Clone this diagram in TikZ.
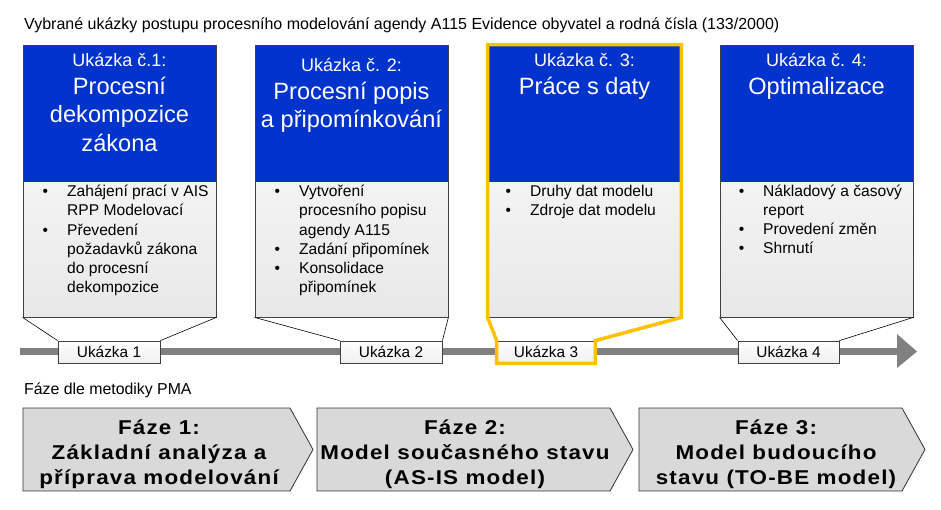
\documentclass[tikz,border=0pt]{standalone}
\usepackage{fontspec}
\setmainfont{Liberation Sans}
\newfontfamily\phasefont[FakeStretch=1.12,LetterSpace=6]{Liberation Sans}
\usetikzlibrary{calc}
\definecolor{ublue}{HTML}{0033CC}
\definecolor{boxborder}{HTML}{404040}
\definecolor{grayend}{HTML}{E8E8E8}
\definecolor{barcol}{HTML}{808080}
\definecolor{hilite}{HTML}{FFC000}
\definecolor{phasefill}{HTML}{D9D9D9}
\newcommand\bul{\llap{\textbullet\hspace{19pt}}}
\tikzset{
  samplebox/.style={draw=boxborder, line width=0.8pt, minimum width=193pt, minimum height=272pt, inner sep=0pt,
    path picture={
      \shade[top color=white, bottom color=grayend] ([yshift=-137pt]path picture bounding box.north west) rectangle (path picture bounding box.south east);
      \fill[ublue] (path picture bounding box.north west) rectangle ([yshift=-137pt]path picture bounding box.north east);
    }},
  labelbox/.style={draw=boxborder, line width=0.8pt, top color=white, bottom color=grayend!70, minimum height=22pt, inner sep=0pt, font=\fontsize{15.4}{18}\selectfont},
  subtitle/.style={anchor=base, text=white, font=\fontsize{18}{21}\selectfont, inner sep=0pt},
  bigtitle/.style={anchor=base, text=white, align=center, font=\fontsize{23.6}{28.5}\selectfont, inner sep=0pt},
  bullets/.style={anchor=base west, align=left, font=\fontsize{15.6}{19}\selectfont, inner sep=0pt},
  callout/.style={draw=black, line width=0.6pt},
  phaseshape/.style={draw=black!80, line width=0.8pt, fill=phasefill},
  phasetext/.style={anchor=base, align=center, font=\phasefont\bfseries\fontsize{20}{25}\selectfont, inner sep=0pt},
  plain/.style={anchor=base west, inner sep=0pt}
}
\begin{document}
\begin{tikzpicture}[x=1pt,y=-1pt]
\useasboundingbox (0,0) rectangle (941,510);
\fill[white] (0,0) rectangle (941,510);

\node[plain, font=\fontsize{16}{18}\selectfont] (title) at (24,29.5) {Vybrané ukázky postupu procesního modelování agendy A115 Evidence obyvatel a rodná čísla (133/2000)};

% timeline
\coordinate (tl0) at (20,351.5);
\coordinate (tl1) at (897,351.5);
\draw[barcol, line width=7pt] (tl0) -- (tl1);
\fill[barcol] (897,334) -- (917,351.5) -- (897,368) -- cycle;

% boxes
\node[samplebox] (b1) at (119.5,181) {};
\node[samplebox] (b2) at (351.5,181) {};
\node[samplebox] (b3) at (584.5,181) {};
\node[samplebox] (b4) at (816.5,181) {};

% labels
\node[labelbox, minimum width=102pt] (l1) at (109,352) {Ukázka 1};
\node[labelbox, minimum width=102pt] (l2) at (391,352) {Ukázka 2};
\node[labelbox, minimum width=98pt] (l3) at (546,352) {Ukázka 3};
\node[labelbox, minimum width=101pt] (l4) at (788.5,352) {Ukázka 4};

\draw[callout] (b1.south west) -- (l1.north west);
\draw[callout] (b1.south east) -- (l1.north east);
\draw[callout] (b2.south west) -- (l2.north west);
\draw[callout] (b2.south east) -- (l2.north east);
\draw[callout] (b4.south west) -- (l4.north west);
\draw[callout] (b4.south east) -- (l4.north east);

\draw[hilite, line width=3.5pt, line join=miter] (b3.north west) -- (b3.south west) -- (l3.north west) -- (l3.south west) -- (l3.south east) -- (l3.north east) -- (b3.south east) -- (b3.north east) -- cycle;

% titles
\node[subtitle] (s1) at (119.5,67) {Ukázka č.1:};
\node[bigtitle] (t1) at (119.5,151.5) {Procesní\\dekompozice\\zákona};
\node[subtitle] (s2) at (351.5,72) {Ukázka č. 2:};
\node[bigtitle] (t2) at (351.5,128) {Procesní popis\\a připomínkování};
\node[subtitle] (s3) at (584.5,67) {Ukázka č. 3:};
\node[bigtitle] (t3) at (584.5,94.5) {Práce s daty};
\node[subtitle] (s4) at (816.5,67) {Ukázka č. 4:};
\node[bigtitle] (t4) at (816.5,94.5) {Optimalizace};

% bullets
\node[bullets] (i1) at (67,292) {\bul Zahájení prací v AIS\\RPP Modelovací\\\bul Převedení\\požadavků zákona\\do procesní\\dekompozice};
\node[bullets] (i2) at (299,292) {\bul Vytvoření\\procesního popisu\\agendy A115\\\bul Zadání připomínek\\\bul Konsolidace\\připomínek};
\node[bullets] (i3) at (530,216) {\bul Druhy dat modelu\\\bul Zdroje dat modelu};
\node[bullets] (i4) at (763,254) {\bul Nákladový a časový\\report\\\bul Provedení změn\\\bul Shrnutí};

% phases
\node[plain, font=\fontsize{15.85}{18}\selectfont] (pma) at (24,394) {Fáze dle metodiky PMA};
\draw[phaseshape] (23,408) -- (290,408) -- (313,449.5) -- (290,491) -- (23,491) -- cycle;
\draw[phaseshape] (317,408) -- (610,408) -- (633,449.5) -- (610,491) -- (317,491) -- cycle;
\draw[phaseshape] (639,408) -- (902,408) -- (925,449.5) -- (902,491) -- (639,491) -- cycle;
\node[phasetext] (p1) at (159,484) {Fáze 1:\\Základní analýza a\\příprava modelování};
\node[phasetext] (p2) at (465,484) {Fáze 2:\\Model současného stavu\\(AS-IS model)};
\node[phasetext] (p3) at (776,484) {Fáze 3:\\Model budoucího\\stavu (TO-BE model)};
\end{tikzpicture}
\end{document}
